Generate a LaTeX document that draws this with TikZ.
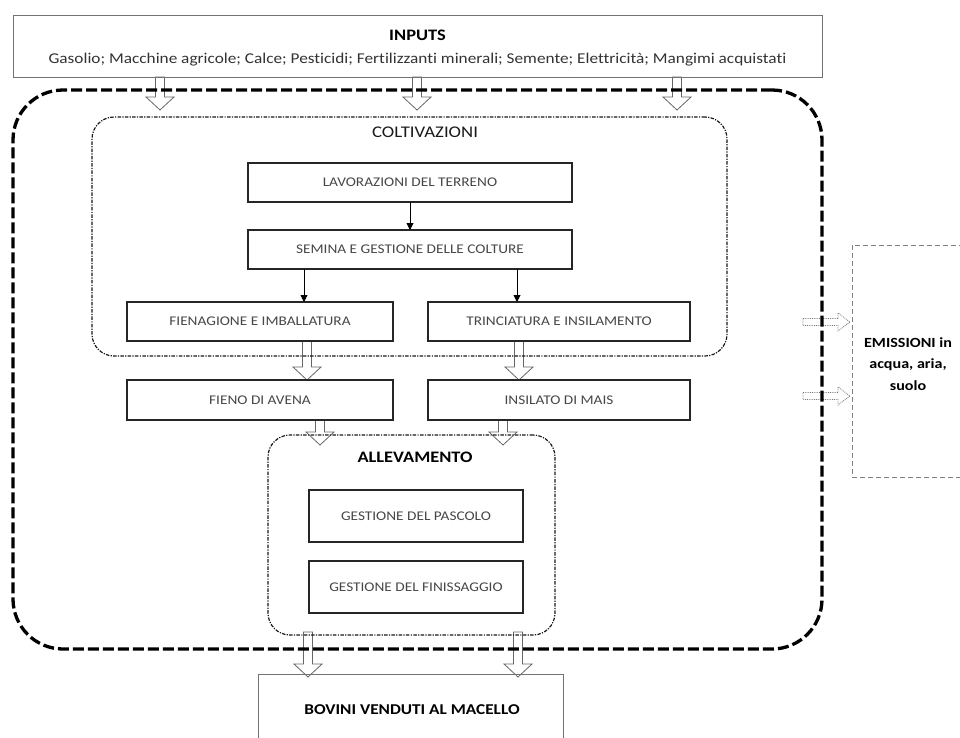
\documentclass[tikz,border=0pt]{standalone}
\usepackage{fontspec}
\setmainfont[FakeStretch=1.15, Ligatures=NoCommon]{Carlito}
\usetikzlibrary{arrows.meta,calc}
\pgfdeclarelayer{back}
\pgfsetlayers{back,main}

\begin{document}
\begin{tikzpicture}[x=1pt,y=-1pt,
  every node/.style={inner sep=0pt, outer sep=0pt},
  % solid process boxes
  stepbox/.style={draw=black!85, line width=1.5pt, rectangle, text=black!72,
    font=\fontsize{13.3}{15}\selectfont},
  % thin grey boxes for inputs and outputs
  plainbox/.style={draw=black!55, line width=0.8pt, rectangle},
  % system boundary
  outerbox/.style={draw=black, line width=3.3pt, rectangle, rounded corners=50pt,
    dash pattern=on 11pt off 4pt},
  % stage containers
  stagebox/.style={draw=black!90, line width=1.2pt, rectangle, rounded corners=22pt,
    dash pattern=on 3.5pt off 1.3pt on 1.2pt off 1.3pt},
  emisbox/.style={draw=black!50, line width=0.9pt, rectangle, dash pattern=on 5pt off 3pt},
  titletext/.style={font=\bfseries\fontsize{15}{18}\selectfont, text=black},
  thinarrow/.style={draw=black, line width=0.9pt, -{Triangle[length=7pt,width=7pt]}},
  % hollow block arrow pointing down
  hollowdown/.style={draw=black!60, fill=white, line width=0.8pt, to path={
    let \p1=(\tikztostart), \p2=(\tikztotarget) in
    (\x1-4.5pt,\y1) -- (\x1-4.5pt,\y2+13pt) -- (\x1-14pt,\y2+13pt) -- (\x1,\y2)
    -- (\x1+14pt,\y2+13pt) -- (\x1+4.5pt,\y2+13pt) -- (\x1+4.5pt,\y1) -- cycle}},
  % hollow dotted arrow pointing right
  hollowright/.style={draw=black!55, fill=white, line width=0.8pt, densely dotted, to path={
    let \p1=(\tikztostart), \p2=(\tikztotarget) in
    (\x1,\y1+3.5pt) -- (\x2-12pt,\y1+3.5pt) -- (\x2-12pt,\y1+9pt) -- (\x2,\y1)
    -- (\x2-12pt,\y1-9pt) -- (\x2-12pt,\y1-3.5pt) -- (\x1,\y1-3.5pt) -- cycle}}
]
\useasboundingbox (0,0) rectangle (960,737);

% inputs
\node[plainbox, minimum width=809pt, minimum height=62pt] (inputs) at (417.5,46) {};
\node[align=center, font=\fontsize{15}{23}\selectfont, text=black!80] (inputstext) at (417.5,48)
  {{\bfseries\fontsize{16}{23}\selectfont\color{black}INPUTS}\\Gasolio; Macchine agricole; Calce; Pesticidi; Fertilizzanti minerali; Semente; Elettricità; Mangimi acquistati};

% system boundary and stage containers
\node[outerbox, minimum width=809pt, minimum height=559pt] (outer) at (417.5,369.5) {};
\node[stagebox, minimum width=635pt, minimum height=239pt] (colt) at (409.5,236.5) {};
\node[font=\fontsize{16.3}{18}\selectfont, text=black!90] (colttitle) at (425,132) {COLTIVAZIONI};
\node[stagebox, minimum width=287pt, minimum height=200pt] (alle) at (411.5,535) {};
\node[titletext, font=\bfseries\fontsize{16}{18}\selectfont] (alletitle) at (415,457) {ALLEVAMENTO};

% crop operations
\node[stepbox, minimum width=324pt, minimum height=39pt] (lav) at (410,182.5) {LAVORAZIONI DEL TERRENO};
\node[stepbox, minimum width=324pt, minimum height=39pt] (sem) at (410,249.5) {SEMINA E GESTIONE DELLE COLTURE};
\node[stepbox, minimum width=266pt, minimum height=39pt] (fien) at (260,321.5) {FIENAGIONE E IMBALLATURA};
\node[stepbox, minimum width=262pt, minimum height=39pt] (trin) at (559,321.5) {TRINCIATURA E INSILAMENTO};

% feeds
\node[stepbox, minimum width=266pt, minimum height=40pt] (fieno) at (260,400) {FIENO DI AVENA};
\node[stepbox, minimum width=262pt, minimum height=40pt] (insil) at (559,400) {INSILATO DI MAIS};

% livestock operations
\node[stepbox, minimum width=214pt, minimum height=52pt] (pasc) at (416,516) {GESTIONE DEL PASCOLO};
\node[stepbox, minimum width=214pt, minimum height=52pt] (fin) at (416,587) {GESTIONE DEL FINISSAGGIO};

% output
\node[plainbox, minimum width=305pt, minimum height=72pt] (bov) at (410.5,710) {};
\node[titletext] (bovtext) at (412,710) {BOVINI VENDUTI AL MACELLO};

% emissions
\node[emisbox, minimum width=112pt, minimum height=232pt] (emis) at (908,361) {};
\node[align=center, font=\bfseries\fontsize{14}{21.5}\selectfont] (emistext) at (908,364)
  {EMISSIONI in\\acqua, aria,\\suolo};

% arrow end points
\coordinate (i1) at (160,110);
\coordinate (i2) at (417,110);
\coordinate (i3) at (677,110);
\coordinate (f1) at (307,0);
\coordinate (f2) at (519,0);
\coordinate (a1) at (320,445);
\coordinate (a2) at (503,445);
\coordinate (b1) at (308,0);
\coordinate (b2) at (518,0);
\coordinate (s1) at (304,0);
\coordinate (s2) at (517,0);
\coordinate (e1) at (803,322);
\coordinate (e2) at (803,396);

% thin flow arrows
\draw[thinarrow] (lav) -- (sem);
\draw[thinarrow] (sem.south -| s1) -- (fien.north -| s1);
\draw[thinarrow] (sem.south -| s2) -- (trin.north -| s2);

% block arrows, kept under the outlines
\begin{pgfonlayer}{back}
\draw[hollowdown] (inputs.south -| i1) to (i1);
\draw[hollowdown] (inputs.south -| i2) to (i2);
\draw[hollowdown] (inputs.south -| i3) to (i3);
\draw[hollowdown] (fien.south -| f1) to (fieno.north -| f1);
\draw[hollowdown] (trin.south -| f2) to (insil.north -| f2);
\draw[hollowdown] (fieno.south -| a1) to (a1);
\draw[hollowdown] (insil.south -| a2) to (a2);
\draw[hollowdown] ($(alle.south -| b1)+(0,-3)$) to ($(bov.north -| b1)+(0,3)$);
\draw[hollowdown] ($(alle.south -| b2)+(0,-3)$) to ($(bov.north -| b2)+(0,3)$);
\draw[hollowright] (e1) to ($(emis.west |- e1)+(-2,0)$);
\draw[hollowright] (e2) to ($(emis.west |- e2)+(-2,0)$);
\end{pgfonlayer}
\end{tikzpicture}
\end{document}
